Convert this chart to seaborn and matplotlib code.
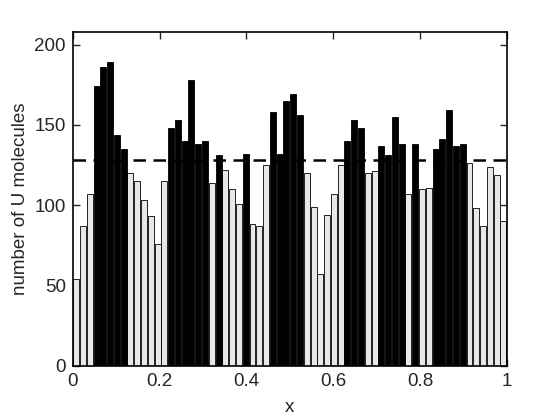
import numpy as np
import pandas as pd
import matplotlib
matplotlib.use("Agg")
import matplotlib.pyplot as plt
import seaborn as sns

# counts per bin (64 bins over [0, 1])
counts = [54, 87, 107, 174, 186, 189, 144, 135,
          120, 115, 103, 93, 76, 115, 148, 153,
          140, 178, 138, 140, 114, 131, 122, 110,
          101, 132, 88, 87, 125, 158, 132, 165,
          169, 156, 120, 99, 57, 94, 107, 125,
          140, 153, 148, 120, 121, 137, 131, 155,
          138, 107, 138, 110, 111, 135, 141, 159,
          137, 138, 126, 98, 87, 124, 119, 90]
mean_level = 128
x_ticks = [0, 0.2, 0.4, 0.6, 0.8, 1]
x_tick_labels = ["0", "0.2", "0.4", "0.6", "0.8", "1"]
y_ticks = [0, 50, 100, 150, 200]

nbins = len(counts)
df = pd.DataFrame({
    "x": (np.arange(nbins) + 0.5) / nbins,
    "n": counts,
})
df["above"] = np.where(df["n"] > mean_level, "above", "below")

sns.set_style("white")
plt.rcParams["font.family"] = ["Liberation Sans", "DejaVu Sans"]

fig = plt.figure(figsize=(5.6, 4.2), dpi=100)
ax = fig.add_axes([0.13, 0.129, 0.775, 0.795])

sns.barplot(data=df, x="x", y="n", hue="above", native_scale=True,
            dodge=False, palette={"above": "black", "below": "#e8e8e8"},
            width=0.88, edgecolor="black", linewidth=0.6, legend=False,
            errorbar=None, ax=ax)

# dashed line at the mean count
ax.axhline(mean_level, color="black", linestyle=(0, (5, 3)), linewidth=1.8)

ax.set_xlim(0, 1)
ax.set_ylim(0, 1.1 * max(counts))
ax.set_xticks(x_ticks)
ax.set_xticklabels(x_tick_labels)
ax.set_yticks(y_ticks)
ax.tick_params(direction="in", length=5, width=1, labelsize=13.5,
               top=True, right=True, bottom=True, left=True, pad=5)
for s in ax.spines.values():
    s.set_visible(True)
    s.set_linewidth(1.2)
    s.set_color("black")

ax.set_xlabel("x", fontsize=13.5, labelpad=7)
ax.set_ylabel("number of U molecules", fontsize=13.5)

fig.savefig("out.png", dpi=100)
